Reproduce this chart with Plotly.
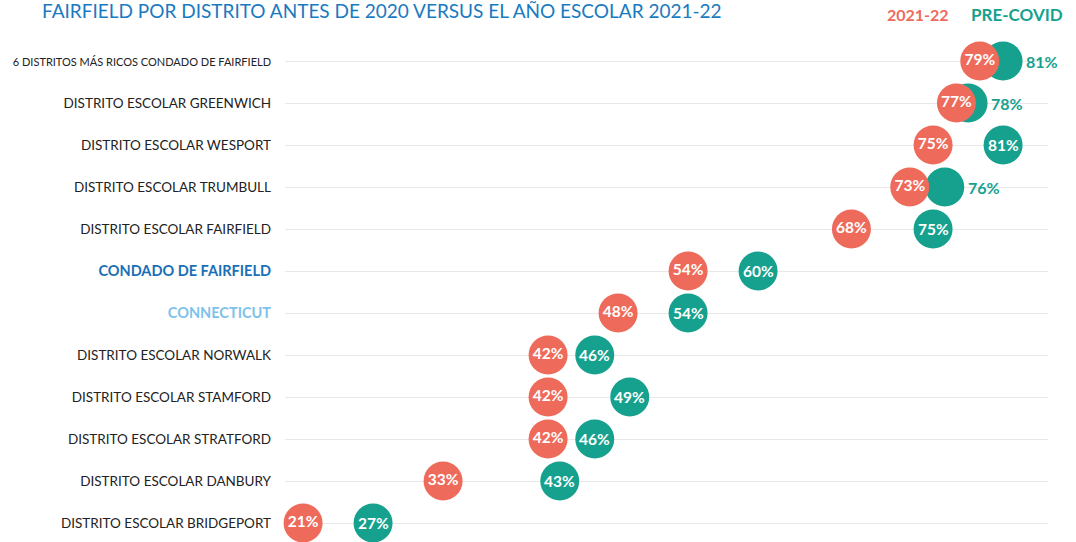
import plotly.graph_objects as go

categories = [
    "6 DISTRITOS MÁS RICOS CONDADO DE FAIRFIELD",
    "DISTRITO ESCOLAR GREENWICH",
    "DISTRITO ESCOLAR WESPORT",
    "DISTRITO ESCOLAR TRUMBULL",
    "DISTRITO ESCOLAR FAIRFIELD",
    "CONDADO DE FAIRFIELD",
    "CONNECTICUT",
    "DISTRITO ESCOLAR NORWALK",
    "DISTRITO ESCOLAR STAMFORD",
    "DISTRITO ESCOLAR STRATFORD",
    "DISTRITO ESCOLAR DANBURY",
    "DISTRITO ESCOLAR BRIDGEPORT",
]
values_2021 = [79, 77, 75, 73, 68, 54, 48, 42, 42, 42, 33, 21]
values_precovid = [81, 78, 81, 76, 75, 60, 54, 46, 49, 46, 43, 27]

RED = "#EE6B5B"
TEAL = "#16A18E"
idx = list(range(len(categories)))

ticktext = []
for c in categories:
    if c == "CONDADO DE FAIRFIELD":
        ticktext.append(f"<b><span style='color:#1A6FB6;font-size:14.5px'>{c}</span></b>")
    elif c == "CONNECTICUT":
        ticktext.append(f"<b><span style='color:#7DC2EA;font-size:14.5px'>{c}</span></b>")
    elif c.startswith("6 "):
        ticktext.append(f"<span style='font-size:11px'>{c}</span>")
    else:
        ticktext.append(c)

inside_pre = [p - r >= 4 for p, r in zip(values_precovid, values_2021)]

fig = go.Figure()
fig.add_trace(go.Scatter(
    x=values_precovid, y=idx, mode="markers",
    marker=dict(size=39, color=TEAL, line=dict(width=0)),
    cliponaxis=False, hoverinfo="skip", showlegend=False,
))
fig.add_trace(go.Scatter(
    x=values_2021, y=idx, mode="markers+text",
    marker=dict(size=39, color=RED, line=dict(width=0)),
    text=[f"<b>{v}%</b>" for v in values_2021], textposition="middle center",
    textfont=dict(family="Lato", size=15.5, color="white"),
    cliponaxis=False, hoverinfo="skip", showlegend=False,
))
for i, (v, ins) in enumerate(zip(values_precovid, inside_pre)):
    if ins:
        fig.add_annotation(x=v, y=i, text=f"<b>{v}%</b>", showarrow=False,
                           font=dict(family="Lato", size=15.5, color="white"))
    else:
        fig.add_annotation(x=v, y=i, text=f"<b>{v}%</b>", showarrow=False,
                           xanchor="left", xshift=21,
                           font=dict(family="Lato", size=16, color=TEAL))

fig.add_annotation(xref="paper", yref="paper", x=0, y=1.0, xshift=-245, yshift=30,
                   xanchor="left", yanchor="middle",
                   text="FAIRFIELD POR DISTRITO ANTES DE 2020 VERSUS EL AÑO ESCOLAR 2021-22",
                   showarrow=False, font=dict(family="Lato", size=19, color="#1A7ABF"))
fig.add_annotation(x=0, y=1, xref="paper", yref="paper", xanchor="left", yanchor="middle",
                   xshift=600, yshift=26, showarrow=False,
                   text="<b>2021-22</b>", font=dict(family="Lato", size=16, color=RED))
fig.add_annotation(x=0, y=1, xref="paper", yref="paper", xanchor="left", yanchor="middle",
                   xshift=684, yshift=26, showarrow=False,
                   text="<b>PRE-COVID</b>", font=dict(family="Lato", size=17, color=TEAL))

fig.update_layout(
    width=1076, height=542,
    margin=dict(l=285, r=28, t=40, b=0, autoexpand=False),
    paper_bgcolor="white", plot_bgcolor="white",
    font=dict(family="Lato", color="#222222"),
    xaxis=dict(range=[19.45, 84.85], showgrid=False, zeroline=False,
               showticklabels=False, showline=False),
    yaxis=dict(range=[11.452, -0.5], tickvals=idx, ticktext=ticktext,
               showgrid=True, gridcolor="#E8E8E8", gridwidth=1, zeroline=False,
               ticks="", ticklabelstandoff=13, automargin=False,
               tickfont=dict(family="Lato", size=13.5, color="#222222")),
)
fig.write_html("out.html", config={"displayModeBar": False},
               post_script="document.body.style.margin='0';document.body.style.overflow='hidden';")
